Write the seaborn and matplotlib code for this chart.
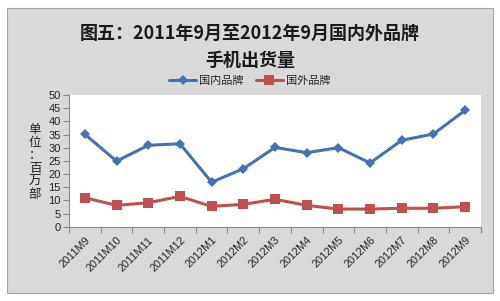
import matplotlib
matplotlib.use("Agg")
import matplotlib.pyplot as plt
import seaborn as sns
import pandas as pd
from matplotlib.patches import Rectangle
from matplotlib.ticker import FixedLocator, NullFormatter

categories = ["2011M9", "2011M10", "2011M11", "2011M12", "2012M1", "2012M2", "2012M3",
              "2012M4", "2012M5", "2012M6", "2012M7", "2012M8", "2012M9"]
domestic = [35.1, 24.9, 30.9, 31.5, 16.9, 22.0, 30.1, 28.1, 30.0, 24.2, 32.8, 35.2, 44.2]
foreign = [11.0, 8.1, 9.1, 11.5, 7.7, 8.5, 10.4, 8.1, 6.7, 6.7, 7.0, 7.0, 7.6]
series_names = ["国内品牌", "国外品牌"]
yticks = list(range(0, 51, 5))

sns.set_theme(style="white")
plt.rcParams['font.family'] = ['Noto Sans CJK SC', 'DejaVu Sans']

df = pd.DataFrame({
    "month": categories * 2,
    "value": domestic + foreign,
    "series": [series_names[0]] * len(categories) + [series_names[1]] * len(categories),
})

fig = plt.figure(figsize=(5.0, 3.01), dpi=100)
fig.patch.set_facecolor("white")
bg = Rectangle((7 / 500, 1 - 293 / 301), 486 / 500, 285 / 301,
               transform=fig.transFigure, facecolor="#d9d9d9",
               edgecolor="#a6a6a6", linewidth=0.8, zorder=-10)
fig.add_artist(bg)

ax = fig.add_axes([69 / 500, 1 - 226.7 / 301, 412 / 500, 131.7 / 301])
ax.set_zorder(1)
ax.set_facecolor("white")

palette = {series_names[0]: "#4472b4", series_names[1]: "#c0504d"}
markers = {series_names[0]: "D", series_names[1]: "s"}
sns.lineplot(data=df, x="month", y="value", hue="series", style="series",
             palette=palette, markers=markers, dashes=False, sort=False,
             linewidth=2.2, markersize=7, markeredgewidth=0, ax=ax)

for line in ax.get_lines():
    if line.get_marker() == "D":
        line.set_markersize(5.5)

ax.set_xlim(-0.5, len(categories) - 0.5)
ax.set_ylim(0, 50)
ax.set_yticks(yticks)
ax.set_yticklabels([str(t) for t in yticks], fontsize=8, color="#222222",
                   family=['Liberation Sans', 'DejaVu Sans'])

ax.set_xticks(range(len(categories)))
ax.set_xticklabels(categories, rotation=45, ha="right", rotation_mode="anchor",
                   fontsize=7.8, color="#222222", family=['Liberation Sans', 'DejaVu Sans'])
ax.tick_params(axis="x", which="major", length=0, pad=6)
ax.xaxis.set_minor_locator(FixedLocator([i - 0.5 for i in range(len(categories) + 1)]))
ax.xaxis.set_minor_formatter(NullFormatter())
ax.tick_params(axis="x", which="minor", length=4, width=0.8, color="#888888", direction="out", bottom=True)
ax.tick_params(axis="y", length=4, width=0.8, color="#888888", direction="out", left=True, pad=2)

for s in ["top", "right"]:
    ax.spines[s].set_visible(False)
for s in ["left", "bottom"]:
    ax.spines[s].set_color("#888888")
    ax.spines[s].set_linewidth(0.8)

ax.set_xlabel("")
ax.set_ylabel("")

handles, labels = ax.get_legend_handles_labels()
ax.legend_.remove()
leg = fig.legend(handles, labels, loc="center", bbox_to_anchor=(0.5, 1 - 81 / 301), ncol=2,
                 frameon=False, handlelength=2.4, columnspacing=1.1,
                 handletextpad=0.3, prop={'family': ['Noto Sans CJK SC'], 'size': 8})

fig.text(0.5, 1 - 33 / 301, "图五：2011年9月至2012年9月国内外品牌", ha="center", va="center",
         fontsize=13, fontweight="bold", color="#1a1a1a")
fig.text(0.5, 1 - 60 / 301, "手机出货量", ha="center", va="center",
         fontsize=13, fontweight="bold", color="#1a1a1a")

fig.text(35 / 500, 1 - 162 / 301, "单\n位\n：\n百\n万\n部", ha="center", va="center",
         fontsize=9, color="#222222", linespacing=1.0)

fig.savefig("out.png", dpi=100)
